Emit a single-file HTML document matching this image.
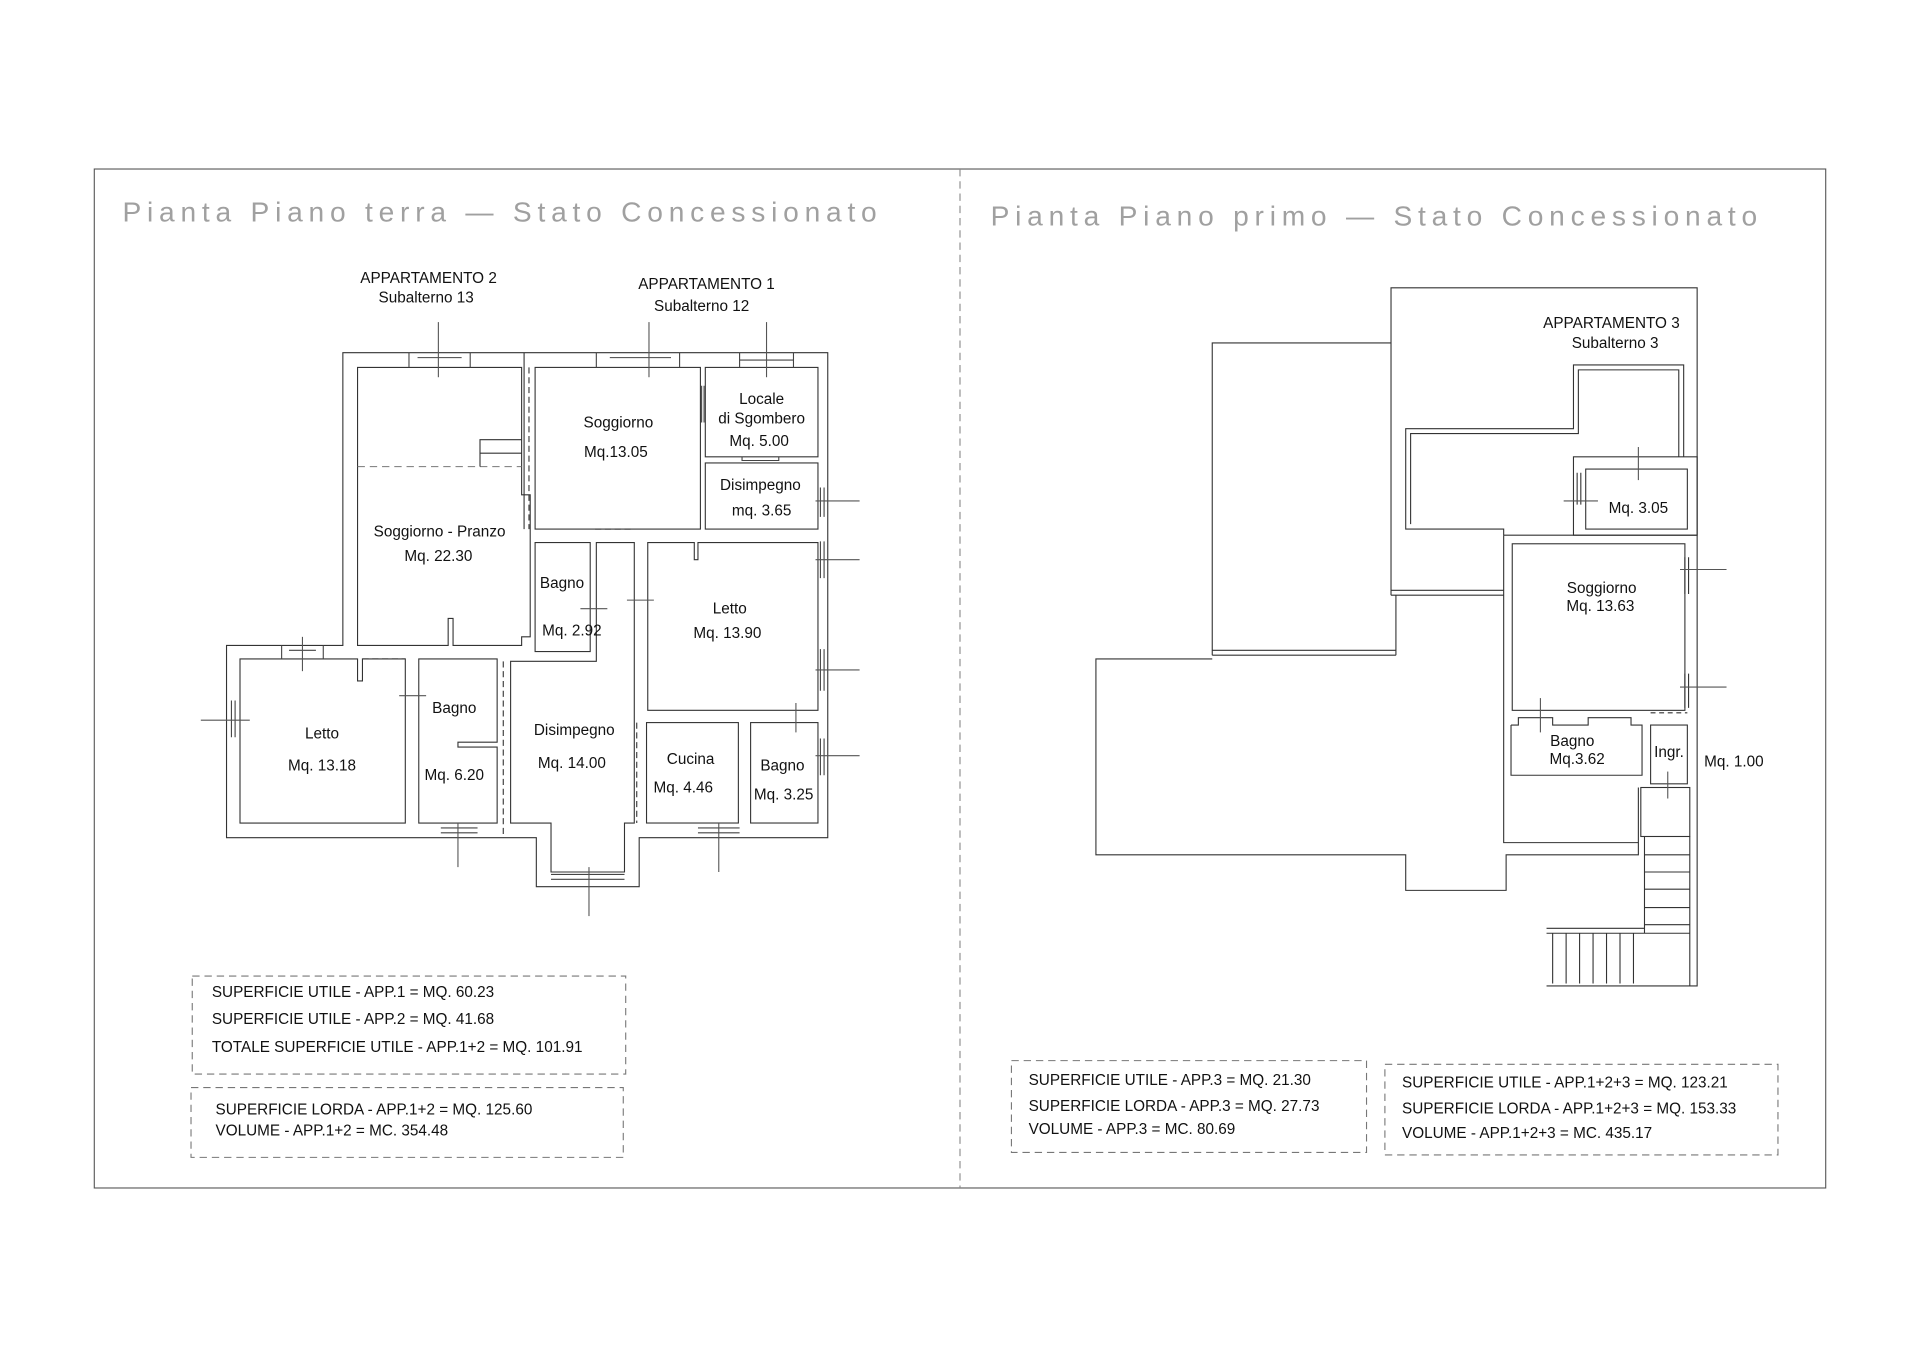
<!DOCTYPE html>
<html><head><meta charset="utf-8"><style>
html,body{margin:0;padding:0;background:#fff;}
svg{display:block}
text{font-family:"Liberation Sans",Arial,sans-serif;fill:#111;}
.l{font-size:12.5px;text-anchor:middle}
.b{font-size:12.5px}
.t{font-size:23px;fill:#a0a0a0;font-weight:normal}
</style></head><body>
<svg width="1920" height="1357" viewBox="0 0 1568 1108" preserveAspectRatio="none" xmlns="http://www.w3.org/2000/svg">
<g fill="none" stroke="#333" stroke-width="0.9">
<rect x="77" y="138" width="1414" height="832" stroke="#555"/>
<line x1="784" y1="138" x2="784" y2="970" stroke="#888" stroke-dasharray="6,4"/>

<polygon points="280,288 676,288 676,684 522,684 522,724 438,724 438,684 185,684 185,527 280,527"/>
<polygon points="292,300 426,300 426,404 433,404 433,520 426,520 426,527 370,527 370,505 366,505 366,527 292,527"/>
<rect x="437" y="300" width="135" height="132"/>
<rect x="576" y="300" width="92" height="73"/>
<rect x="576" y="378" width="92" height="54"/>
<rect x="437" y="443" width="45" height="89"/>
<polygon points="529,443 567,443 567,457 570,457 570,443 668,443 668,580 529,580"/>
<polygon points="196,538 292,538 292,556 296,556 296,538 331,538 331,672 196,672"/>
<polygon points="342,538 406,538 406,606 374,606 374,610 406,610 406,672 342,672"/>
<polygon points="417,540 487,540 487,443 518,443 518,672 510,672 510,712 450,712 450,672 417,672"/>
<rect x="528" y="590" width="75" height="82"/>
<rect x="613" y="590" width="55" height="82"/>
<line x1="428" y1="288" x2="428" y2="432"/>
<line x1="432" y1="300" x2="432" y2="432" stroke-dasharray="5,3"/>
<line x1="292" y1="381" x2="426" y2="381" stroke="#777" stroke-dasharray="6,4"/>
<polyline points="392,381 392,359 426,359"/>
<line x1="392" y1="370" x2="426" y2="370"/>
<line x1="296" y1="538" x2="331" y2="538" stroke-dasharray="5,3"/>
<line x1="520" y1="590" x2="520" y2="672" stroke-dasharray="5,3"/>
<line x1="486" y1="432" x2="516" y2="432" stroke-dasharray="5,3"/>
<line x1="411" y1="540" x2="411" y2="684" stroke-dasharray="5,3"/>
<g stroke="#444">
<path d="M334,288v12M384,288v12M341,292h36M487,288v12M555,288v12M498,292h50"/>
<path d="M604,288v12M648,288v12M604,294h44"/>
<path d="M230,527v11M264,527v11M236,531h22"/>
<path d="M192,572v30M189,572v30"/>
<path d="M670,398v24M673,398v24M670,442v30M673,442v30M670,530v34M673,530v34M670,603v30M673,603v30"/>
<path d="M360,676h30M360,680h30M570,676h34M570,680h34M450,714h60M450,718h60"/>
<path d="M573,315v30M575,315v30M606,373v3h30v-3"/>
</g>
<g stroke="#555">
<line x1="358" y1="263" x2="358" y2="308"/>
<line x1="530" y1="263" x2="530" y2="308"/>
<line x1="626" y1="263" x2="626" y2="308"/>
<line x1="247" y1="520" x2="247" y2="548"/>
<line x1="481" y1="708" x2="481" y2="748"/>
<line x1="374" y1="672" x2="374" y2="708"/>
<line x1="587" y1="672" x2="587" y2="712"/>
<line x1="666" y1="409" x2="702" y2="409"/>
<line x1="666" y1="457" x2="702" y2="457"/>
<line x1="666" y1="547" x2="702" y2="547"/>
<line x1="666" y1="617" x2="702" y2="617"/>
<line x1="164" y1="588" x2="204" y2="588"/>
<line x1="326" y1="568" x2="348" y2="568"/>
<line x1="474" y1="497" x2="496" y2="497"/>
<line x1="512" y1="490" x2="534" y2="490"/>
<line x1="650" y1="574" x2="650" y2="598"/>
</g>

<polyline points="1136,486 1136,235 1386,235 1386,805 1263,805"/>
<line x1="1136" y1="486" x2="1228" y2="486"/>
<line x1="1136" y1="482" x2="1228" y2="482"/>
<polyline points="990,535 990,280 1136,280"/>
<line x1="990" y1="535" x2="1140" y2="535"/>
<line x1="990" y1="531" x2="1140" y2="531"/>
<line x1="1140" y1="486" x2="1140" y2="535"/>
<polyline points="990,538 895,538 895,698 1148,698 1148,727 1230,727 1230,698 1338,698 1338,643"/>
<polyline points="1228,437 1228,432 1148,432 1148,350 1285,350 1285,298 1375,298 1375,373"/>
<polyline points="1152,428 1152,354 1289,354 1289,302 1371,302 1371,373"/>
<rect x="1285" y="373" width="101" height="64"/>
<rect x="1295" y="383" width="83" height="49"/>
<polyline points="1228,437 1386,437"/>
<polyline points="1228,437 1228,688 1338,688"/>
<rect x="1235" y="444" width="141" height="136"/>
<path d="M1376,455v30M1379,455v30M1376,550v28M1379,550v28M1288,386v26M1291,386v26"/>
<polyline points="1234,592 1240,592 1240,586 1250,586 1268,586 1268,592 1297,592 1297,586 1332,586 1332,592 1341,592 1341,633 1234,633 1234,592"/>
<rect x="1348" y="592" width="30" height="48"/>
<line x1="1348" y1="582" x2="1378" y2="582" stroke-dasharray="4,3"/>
<rect x="1340" y="643" width="40" height="40"/>
<line x1="1343" y1="683" x2="1343" y2="762"/>
<line x1="1380" y1="683" x2="1380" y2="805"/>
<path d="M1343,698h37M1343,712h37M1343,726h37M1343,741h37M1343,755h37"/>
<polyline points="1263,758 1343,758"/>
<line x1="1263" y1="762" x2="1380" y2="762"/>
<path d="M1268,762v41M1279,762v41M1290,762v41M1301,762v41M1312,762v41M1323,762v41M1334,762v41"/>
<g stroke="#555">
<line x1="1338" y1="365" x2="1338" y2="392"/>
<line x1="1277" y1="409" x2="1305" y2="409"/>
<line x1="1372" y1="465" x2="1410" y2="465"/>
<line x1="1372" y1="561" x2="1410" y2="561"/>
<line x1="1258" y1="570" x2="1258" y2="598"/>
<line x1="1362" y1="630" x2="1362" y2="652"/>
</g>

<g stroke="#777" stroke-dasharray="6,4">
<rect x="157" y="797" width="354" height="80"/>
<rect x="156" y="888" width="353" height="57"/>
<rect x="826" y="866" width="290" height="75"/>
<rect x="1131" y="869" width="321" height="74"/>
</g>
</g>

<text class="t" x="100" y="181" textLength="616" lengthAdjust="spacing">Pianta Piano terra — Stato Concessionato</text>
<text class="t" x="809" y="184" textLength="626" lengthAdjust="spacing">Pianta Piano primo — Stato Concessionato</text>

<text class="l" x="350" y="231">APPARTAMENTO 2</text>
<text class="l" x="348" y="247">Subalterno 13</text>
<text class="l" x="577" y="236">APPARTAMENTO 1</text>
<text class="l" x="573" y="254">Subalterno 12</text>
<text class="l" x="505" y="349">Soggiorno</text>
<text class="l" x="503" y="373">Mq.13.05</text>
<text class="l" x="622" y="330">Locale</text>
<text class="l" x="622" y="346">di Sgombero</text>
<text class="l" x="620" y="364">Mq. 5.00</text>
<text class="l" x="621" y="400">Disimpegno</text>
<text class="l" x="622" y="421">mq. 3.65</text>
<text class="l" x="359" y="438">Soggiorno - Pranzo</text>
<text class="l" x="358" y="458">Mq. 22.30</text>
<text class="l" x="459" y="480">Bagno</text>
<text class="l" x="467" y="519">Mq. 2.92</text>
<text class="l" x="596" y="501">Letto</text>
<text class="l" x="594" y="521">Mq. 13.90</text>
<text class="l" x="263" y="603">Letto</text>
<text class="l" x="263" y="629">Mq. 13.18</text>
<text class="l" x="371" y="582">Bagno</text>
<text class="l" x="371" y="637">Mq. 6.20</text>
<text class="l" x="469" y="600">Disimpegno</text>
<text class="l" x="467" y="627">Mq. 14.00</text>
<text class="l" x="564" y="624">Cucina</text>
<text class="l" x="558" y="647">Mq. 4.46</text>
<text class="l" x="639" y="629">Bagno</text>
<text class="l" x="640" y="653">Mq. 3.25</text>

<text class="l" x="1316" y="268">APPARTAMENTO 3</text>
<text class="l" x="1319" y="284">Subalterno 3</text>
<text class="l" x="1338" y="419">Mq. 3.05</text>
<text class="l" x="1308" y="484">Soggiorno</text>
<text class="l" x="1307" y="499">Mq. 13.63</text>
<text class="l" x="1284" y="609">Bagno</text>
<text class="l" x="1288" y="624">Mq.3.62</text>
<text class="l" x="1363" y="618">Ingr.</text>
<text class="l" x="1416" y="626">Mq. 1.00</text>

<text class="b" x="173" y="814">SUPERFICIE UTILE - APP.1 = MQ. 60.23</text>
<text class="b" x="173" y="836">SUPERFICIE UTILE - APP.2 = MQ. 41.68</text>
<text class="b" x="173" y="859">TOTALE SUPERFICIE UTILE - APP.1+2 = MQ. 101.91</text>
<text class="b" x="176" y="910">SUPERFICIE LORDA - APP.1+2 = MQ. 125.60</text>
<text class="b" x="176" y="927">VOLUME - APP.1+2 = MC. 354.48</text>
<text class="b" x="840" y="886">SUPERFICIE UTILE - APP.3 = MQ. 21.30</text>
<text class="b" x="840" y="907">SUPERFICIE LORDA - APP.3 = MQ. 27.73</text>
<text class="b" x="840" y="926">VOLUME - APP.3 = MC. 80.69</text>
<text class="b" x="1145" y="888">SUPERFICIE UTILE - APP.1+2+3 = MQ. 123.21</text>
<text class="b" x="1145" y="909">SUPERFICIE LORDA - APP.1+2+3 = MQ. 153.33</text>
<text class="b" x="1145" y="929">VOLUME - APP.1+2+3 = MC. 435.17</text>
</svg>
</body></html>
